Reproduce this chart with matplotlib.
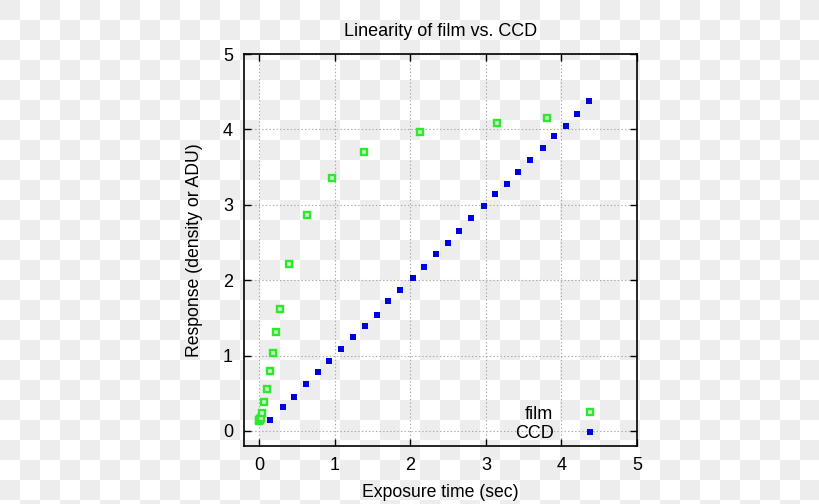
import numpy as np
import matplotlib
matplotlib.use("Agg")
import matplotlib.pyplot as plt

plt.rcParams['font.family'] = ['Liberation Sans', 'DejaVu Sans']

# film: exposure time (sec) vs density
film_x = [0.0, 0.005, 0.01, 0.015, 0.02, 0.04, 0.07, 0.11, 0.14, 0.18,
          0.22, 0.28, 0.40, 0.64, 0.97, 1.39, 2.13, 3.15, 3.81]
film_y = [0.13, 0.14, 0.15, 0.16, 0.17, 0.24, 0.38, 0.55, 0.80, 1.03,
          1.31, 1.62, 2.21, 2.86, 3.35, 3.70, 3.96, 4.09, 4.15]

# CCD: exposure time (sec) vs ADU
ccd_x = [0.15, 0.31, 0.46, 0.62, 0.78, 0.93, 1.09, 1.24, 1.40, 1.56,
         1.71, 1.87, 2.03, 2.18, 2.34, 2.50, 2.65, 2.81, 2.97, 3.12,
         3.28, 3.43, 3.59, 3.75, 3.90, 4.06, 4.21, 4.37]
ccd_y = [0.14, 0.32, 0.45, 0.62, 0.78, 0.93, 1.09, 1.24, 1.39, 1.54,
         1.72, 1.87, 2.03, 2.17, 2.35, 2.49, 2.65, 2.82, 2.98, 3.14,
         3.28, 3.44, 3.60, 3.75, 3.91, 4.05, 4.21, 4.37]

ticks = [0, 1, 2, 3, 4, 5]

W, H = 820, 504
fig = plt.figure(figsize=(W / 100, H / 100), dpi=100)

# transparent-background checkerboard behind everything
yy, xx = np.mgrid[0:H, 0:W]
board = np.where(((xx // 20) + (yy // 20)) % 2 == 0, 0.933, 1.0)
bgax = fig.add_axes([0, 0, 1, 1], zorder=-1)
bgax.imshow(np.dstack([board, board, board]), aspect='auto',
            interpolation='nearest')
bgax.axis('off')

ax = fig.add_axes([244 / W, 1 - 446 / H, (637 - 244) / W, (446 - 54) / H])
ax.patch.set_alpha(0)

ax.plot(film_x, film_y, linestyle='none', marker='s', ms=4.4, mew=1.7,
        mec='#2ee82e', mfc='#c8f7c8', label='film', zorder=3)
ax.plot(ccd_x, ccd_y, linestyle='none', marker='s', ms=3.8, mew=0,
        mfc='#0000e0', label='CCD', zorder=3)

ax.set_xlim(-0.2, 5)
ax.set_ylim(-0.2, 5)
ax.set_xticks(ticks)
ax.set_yticks(ticks)
ax.tick_params(direction='in', length=5, width=1, top=True, right=True,
               labelsize=13, pad=8)
ax.grid(True, color='#a8a8a8', linestyle=(0, (1.2, 2)), linewidth=0.8)
for s in ax.spines.values():
    s.set_linewidth(1.2)

ax.set_title('Linearity of film vs. CCD', fontsize=13, pad=13)
ax.set_xlabel('Exposure time (sec)', fontsize=12.7, labelpad=7)
ax.set_ylabel('Response (density or ADU)', fontsize=12.7, labelpad=14)

ax.legend(loc='lower right', frameon=False, markerfirst=False, fontsize=13,
          handlelength=0.8, handletextpad=1.6, labelspacing=0.12,
          borderaxespad=0, bbox_to_anchor=(0.916, -0.008))

fig.savefig('out.png', dpi=100)
